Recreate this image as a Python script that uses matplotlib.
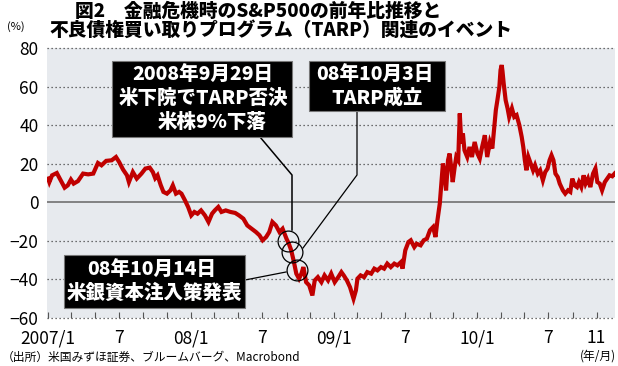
import matplotlib
matplotlib.use("Agg")
import matplotlib.pyplot as plt
import matplotlib.dates as mdates
from matplotlib.patches import Rectangle
from matplotlib.lines import Line2D
import pandas as pd

plt.rcParams['font.family'] = ['Noto Sans CJK JP', 'DejaVu Sans']

# S&P500 year-on-year change (%)
dates = [
    '2007-01-02', '2007-01-05', '2007-01-12', '2007-01-24', '2007-02-03', '2007-02-13',
    '2007-02-21', '2007-03-01', '2007-03-08', '2007-03-19', '2007-04-01', '2007-04-14',
    '2007-04-27', '2007-05-09', '2007-05-18', '2007-05-30', '2007-06-13', '2007-06-24',
    '2007-07-02', '2007-07-12', '2007-07-22', '2007-07-27', '2007-08-06', '2007-08-16',
    '2007-08-28', '2007-09-07', '2007-09-18', '2007-09-26', '2007-10-02', '2007-10-08',
    '2007-10-16', '2007-10-23', '2007-11-01', '2007-11-10', '2007-11-16', '2007-11-24',
    '2007-12-02', '2007-12-08', '2007-12-17', '2007-12-25', '2008-01-02', '2008-01-10',
    '2008-01-18', '2008-01-27', '2008-02-06', '2008-02-15', '2008-02-24', '2008-03-02',
    '2008-03-11', '2008-03-19', '2008-03-30', '2008-04-11', '2008-04-23', '2008-05-03',
    '2008-05-14', '2008-05-24', '2008-06-04', '2008-06-15', '2008-06-24', '2008-07-02',
    '2008-07-11', '2008-07-19', '2008-07-27', '2008-08-05', '2008-08-14', '2008-08-22',
    '2008-09-01', '2008-09-07', '2008-09-13', '2008-09-19', '2008-09-26', '2008-10-03',
    '2008-10-09', '2008-10-14', '2008-10-21', '2008-10-29', '2008-11-06', '2008-11-12',
    '2008-11-20', '2008-11-29', '2008-12-07', '2008-12-16', '2008-12-24', '2009-01-02',
    '2009-01-11', '2009-01-19', '2009-01-25', '2009-02-02', '2009-02-10', '2009-02-19',
    '2009-02-25', '2009-03-01', '2009-03-09', '2009-03-18', '2009-03-26', '2009-04-05',
    '2009-04-13', '2009-04-21', '2009-04-30', '2009-05-08', '2009-05-16', '2009-05-25',
    '2009-06-03', '2009-06-11', '2009-06-20', '2009-06-24', '2009-07-01', '2009-07-09',
    '2009-07-15', '2009-07-24', '2009-07-30', '2009-08-09', '2009-08-17', '2009-08-25',
    '2009-09-02', '2009-09-10', '2009-09-16', '2009-09-21', '2009-09-27', '2009-10-01',
    '2009-10-05', '2009-10-09', '2009-10-13', '2009-10-18', '2009-10-22', '2009-10-26',
    '2009-10-30', '2009-11-04', '2009-11-08', '2009-11-13', '2009-11-17', '2009-11-21',
    '2009-11-25', '2009-11-29', '2009-12-06', '2009-12-12', '2009-12-18', '2009-12-25',
    '2010-01-01', '2010-01-07', '2010-01-13', '2010-01-20', '2010-01-26', '2010-02-02',
    '2010-02-08', '2010-02-13', '2010-02-17', '2010-02-21', '2010-02-26', '2010-03-01',
    '2010-03-04', '2010-03-06', '2010-03-09', '2010-03-14', '2010-03-19', '2010-03-23',
    '2010-03-30', '2010-04-05', '2010-04-11', '2010-04-18', '2010-04-24', '2010-04-28',
    '2010-05-02', '2010-05-06', '2010-05-11', '2010-05-17', '2010-05-23', '2010-05-28',
    '2010-06-04', '2010-06-10', '2010-06-17', '2010-06-23', '2010-06-29', '2010-07-04',
    '2010-07-09', '2010-07-14', '2010-07-19', '2010-07-25', '2010-07-30', '2010-08-07',
    '2010-08-13', '2010-08-20', '2010-08-26', '2010-08-31', '2010-09-06', '2010-09-12',
    '2010-09-17', '2010-09-23', '2010-09-29', '2010-10-04', '2010-10-10', '2010-10-16',
    '2010-10-23', '2010-10-29', '2010-11-03', '2010-11-09', '2010-11-15', '2010-11-22',
    '2010-11-28', '2010-12-04', '2010-12-11', '2010-12-17', '2010-12-21',
]
yoy = [
    12.3, 10.5, 14.0, 15.2, 11.4, 7.6,
    8.8, 11.8, 9.7, 11.0, 14.9, 14.5,
    14.9, 20.4, 19.2, 21.5, 21.8, 23.5,
    20.9, 17.0, 14.0, 10.5, 15.7, 12.3,
    14.9, 17.5, 18.0, 15.7, 12.5, 14.0,
    9.0, 5.4, 4.5, 6.2, 8.8, 4.5,
    5.4, 4.5, 1.0, -2.4, -6.8, -5.0,
    -5.9, -4.2, -6.8, -10.2, -5.9, -4.2,
    -2.4, -5.0, -4.2, -5.0, -5.5, -6.8,
    -8.5, -12.0, -13.7, -15.4, -17.1, -19.7,
    -18.0, -15.4, -10.2, -12.0, -15.4, -13.7,
    -18.9, -21.5, -24.9, -30.1, -37.0, -39.6,
    -37.0, -33.6, -41.4, -43.1, -48.3, -40.5,
    -38.8, -41.4, -37.9, -40.5, -37.0, -41.4,
    -38.8, -36.2, -37.9, -40.5, -44.0, -50.0,
    -45.7, -39.6, -37.9, -38.8, -36.2, -37.0,
    -34.4, -35.3, -33.6, -34.4, -31.8, -33.6,
    -31.8, -32.7, -31.0, -34.4, -24.9, -20.6,
    -19.7, -23.2, -21.5, -22.3, -19.7, -18.9,
    -14.5, -12.8, -18.0, -9.4, -0.7, 9.7,
    20.1, 14.9, 6.2, 21.8, 25.3, 18.3,
    10.5, 18.3, 23.5, 21.8, 46.1, 30.5,
    35.7, 27.0, 23.5, 28.7, 23.5, 31.3,
    25.3, 22.7, 28.7, 34.8, 23.5, 31.3,
    27.9, 39.1, 47.8, 53.0, 59.9, 68.6,
    71.2, 68.0, 61.7, 53.0, 48.7, 44.3,
    48.7, 44.3, 45.2, 40.0, 33.9, 28.7,
    21.8, 16.6, 23.5, 20.1, 16.6, 19.2,
    14.9, 16.6, 11.4, 15.7, 17.5, 21.8,
    24.4, 21.8, 14.9, 13.1, 9.7, 6.2,
    4.5, 6.2, 5.4, 12.3, 8.8, 7.9,
    10.5, 7.9, 14.0, 9.7, 12.3, 7.9,
    14.9, 17.5, 10.5, 9.7, 6.2, 10.5,
    12.3, 14.0, 13.5, 14.9, 14.0,
]

tick_dates = ['2007-01-01', '2007-07-01', '2008-01-01', '2008-07-01', '2009-01-01',
              '2009-07-01', '2010-01-01', '2010-07-01', '2010-11-01']
tick_labels = ['2007/1', '7', '08/1', '7', '09/1', '7', '10/1', '7', '11']
y_ticks = [-60, -40, -20, 0, 20, 40, 60, 80]

# circled points on the line (as drawn in the chart)
mark_dates = ['2008-09-06', '2008-09-16', '2008-09-28']
mark_values = [-19.9, -25.8, -35.3]

W, H = 618, 366


def fp(x, y):
    # picture pixel -> figure fraction
    return x / W, 1 - y / H


fig = plt.figure(figsize=(W / 100, H / 100), dpi=100)
ax = fig.add_axes([47 / W, 1 - 318 / H, (615 - 47) / W, (318 - 47.5) / H])
ax.set_facecolor('#e7eaee')
for s in ax.spines.values():
    s.set_visible(False)

x = pd.to_datetime(dates)
ax.set_xlim(pd.Timestamp('2006-12-30'), pd.Timestamp('2010-12-18'))
ax.set_ylim(-60, 80.3)

for v in y_ticks:
    if v == 0:
        ax.axhline(0, color='#666666', lw=1.1, zorder=1)
    else:
        ax.axhline(v, color='#444444', lw=0.9, ls=(0, (1, 2.2)), zorder=1, clip_on=False)

ax.plot(x, yoy, color='#c00000', lw=3.0, solid_joinstyle='miter', zorder=3)

ax.plot(pd.to_datetime(mark_dates), mark_values, ls='none', marker='o', ms=15,
        mfc='none', mec='black', mew=0.9, zorder=4)

ax.set_yticks(y_ticks)
ax.set_yticklabels([str(v).replace('-', '\u2212') for v in y_ticks])
ax.tick_params(axis='y', length=0, pad=6, labelsize=12.5, colors='black')

ax.set_xticks(pd.to_datetime(tick_dates))
ax.set_xticklabels(tick_labels)
ax.xaxis.set_minor_locator(mdates.MonthLocator(bymonth=[1, 3, 5, 7, 9, 11]))
ax.tick_params(axis='x', which='both', direction='in', length=4, width=0.8,
               color='#555555', labelsize=12.5, pad=8)

# title
fig.text(*fp(258, 11), '図2\u3000金融危機時のS&P500の前年比推移と', ha='center', va='center',
         fontsize=13.5, fontweight='heavy')
fig.text(*fp(281, 30), '不良債権買い取りプログラム（TARP）関連のイベント', ha='center', va='center',
         fontsize=13.5, fontweight='heavy')
fig.text(*fp(7, 27), '(%)', ha='left', va='center', fontsize=8)

# leader lines
for pts, lw in [([(260, 137), (292, 175), (292, 230)], 1.1),
                ([(357, 111), (357, 175), (303, 248)], 0.9),
                ([(245, 280), (286, 272)], 0.9)]:
    xs = [fp(a, b)[0] for a, b in pts]
    ys = [fp(a, b)[1] for a, b in pts]
    fig.add_artist(Line2D(xs, ys, color='black', lw=lw, transform=fig.transFigure))

# event boxes
boxes = [
    ((112, 61, 292, 137), [('2008年9月29日', 203, 74), ('米下院でTARP否決', 203, 98), ('米株9%下落', 212, 122)]),
    ((309, 61, 445, 111), [('08年10月3日', 375, 74), ('TARP成立', 377, 98)]),
    ((64, 255, 245, 308), [('08年10月14日', 152, 269), ('米銀資本注入策発表', 154, 293)]),
]
for (x0, y0, x1, y1), lines in boxes:
    fig.add_artist(Rectangle(fp(x0, y1), (x1 - x0) / W, (y1 - y0) / H, transform=fig.transFigure,
                             facecolor='black', edgecolor='#777777', lw=0.8, zorder=5))
    for txt, tx, ty in lines:
        fig.text(*fp(tx, ty), txt, ha='center', va='center', color='white',
                 fontsize=14, fontweight='heavy', zorder=6)

fig.text(*fp(2, 357), '（出所）米国みずほ証券、ブルームバーグ、Macrobond', ha='left', va='center', fontsize=8.5)
fig.text(*fp(616, 356), '(年/月)', ha='right', va='center', fontsize=8.5)

fig.savefig('out.png', dpi=100)
